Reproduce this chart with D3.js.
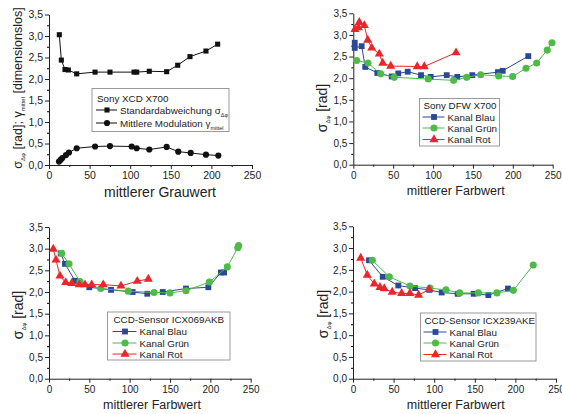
<!DOCTYPE html>
<html>
<head>
<meta charset="utf-8">
<script src="https://d3js.org/d3.v7.min.js"></script>
<style>
  body { margin: 0; background: #fff; }
  svg { font-family: "Liberation Sans", Arial, sans-serif; }
</style>
</head>
<body>
<div id="app"></div>
<script>
'use strict'

// Sony XCD X700 (Grauwert)
const xcdSigmaX = [12.7, 15.2, 19.7, 23.8, 34.1, 56.7, 75.1, 104.7, 108, 123.5, 144.9, 158.5, 173.6, 193.3, 207.7];
const xcdSigma  = [3.03, 2.44, 2.22, 2.21, 2.12, 2.16, 2.16, 2.16, 2.16, 2.18, 2.17, 2.32, 2.52, 2.65, 2.81];
const xcdGammaX = [12.3, 14.4, 16.4, 20.9, 24.6, 34.1, 56.7, 75.1, 101.8, 108, 123.5, 144.9, 159.2, 174.5, 193.3, 208.5];
const xcdGamma  = [0.08, 0.12, 0.16, 0.23, 0.29, 0.39, 0.43, 0.44, 0.43, 0.39, 0.36, 0.42, 0.31, 0.28, 0.24, 0.22];

// Sony DFW X700
const dfwBlueX  = [1.8, 1.8, 10.5, 15.0, 30.1, 48.1, 56.4, 68.2, 84.9, 97.0, 117.1, 130.4, 149.2, 181.4, 187.3, 219.4];
const dfwBlue   = [2.82, 2.70, 2.74, 2.26, 2.12, 2.04, 2.11, 2.15, 2.07, 2.03, 2.07, 2.03, 2.07, 2.14, 2.17, 2.51];
const dfwGreenX = [4.2, 18.4, 34.4, 51.4, 94.0, 125.8, 142.2, 159.7, 182.3, 199.8, 216.5, 229.9, 243.2, 249.1];
const dfwGreen  = [2.41, 2.35, 2.10, 2.02, 1.98, 1.95, 2.02, 2.08, 2.05, 2.04, 2.23, 2.35, 2.65, 2.82];
const dfwRedX   = [2.1, 6.3, 7.5, 13.8, 18.1, 23.1, 32.6, 36.9, 46.9, 80.2, 89.0, 128.8];
const dfwRed    = [3.13, 3.17, 3.29, 3.22, 2.88, 2.70, 2.56, 2.35, 2.28, 2.27, 2.27, 2.59];

// CCD-Sensor ICX069AKB
const akbBlueX  = [14.5, 19.8, 32.2, 50.0, 76.9, 103.7, 121.8, 141, 169.8, 197.5, 213, 217];
const akbBlue   = [2.89, 2.65, 2.26, 2.11, 2.05, 2.00, 1.96, 2.00, 2.08, 2.11, 2.45, 2.45];
const akbGreenX = [15.7, 24.8, 38.4, 64.1, 98.3, 130.2, 150, 169.8, 198.8, 221, 234, 235];
const akbGreen  = [2.89, 2.65, 2.24, 2.08, 2.02, 1.99, 1.98, 2.03, 2.23, 2.58, 3.02, 3.07];
const akbRedX   = [5.3, 8.7, 13.6, 20.7, 28.1, 37.6, 44.6, 52.9, 67.3, 89.2, 109.4, 123.1];
const akbRed    = [2.99, 2.74, 2.37, 2.22, 2.20, 2.17, 2.17, 2.17, 2.17, 2.14, 2.25, 2.30];

// CCD-Sensor ICX239AKE
const akeBlueX  = [19.7, 36.6, 55.8, 76.4, 94.0, 109.2, 128.9, 148.6, 166.7, 190.9];
const akeBlue   = [2.72, 2.34, 2.14, 2.08, 2.04, 1.98, 1.95, 1.95, 1.92, 2.07];
const akeGreenX = [23.8, 44.7, 70.2, 94.8, 114.5, 131.4, 154.4, 177.3, 197.5, 222];
const akeGreen  = [2.72, 2.34, 2.13, 2.08, 2.04, 1.97, 1.97, 1.97, 2.03, 2.61];
const akeRedX   = [9.5, 17.6, 26.2, 33.2, 38.5, 48.3, 59.9, 70.1, 80.8, 93.8];
const akeRed    = [2.77, 2.38, 2.18, 2.10, 2.07, 1.99, 1.96, 1.96, 1.92, 2.05];

const xTicks = [0, 50, 100, 150, 200, 250];
const yTicks = [0, 0.5, 1, 1.5, 2, 2.5, 3, 3.5];
const channelNames = ['Kanal Blau', 'Kanal Grün', 'Kanal Rot'];

const BLUE = '#2b4897';
const GREEN = '#4fba48';
const RED = '#e8262c';
const INK = '#222';

const zip = (xs, ys) => xs.map((x, i) => [x, ys[i]]);

const svg = d3.select('#app').append('svg')
  .attr('width', 562).attr('height', 414);

function drawPanel(p) {
  let x = d3.scaleLinear().domain([0, 250]).range([p.left, p.right]);
  let y = d3.scaleLinear().domain([0, 3.5]).range([p.bottom, p.top]);
  let g = svg.append('g');

  let fmt = (d) => d3.format('.1f')(d).replace('.', ',');

  // minor ticks
  g.append('g').attr('transform', `translate(${p.left},0)`)
    .call(d3.axisLeft(y).tickValues(d3.range(0.25, 3.5, 0.5)).tickSize(2).tickFormat(''))
    .call((a) => a.select('.domain').remove());
  g.append('g').attr('transform', `translate(0,${p.bottom})`)
    .call(d3.axisBottom(x).tickValues(d3.range(25, 250, 50)).tickSize(2).tickFormat(''))
    .call((a) => a.select('.domain').remove());

  // major axes
  let ya = g.append('g').attr('transform', `translate(${p.left},0)`)
    .call(d3.axisLeft(y).tickValues(yTicks).tickSize(4).tickSizeOuter(0).tickPadding(2).tickFormat(fmt));
  let xa = g.append('g').attr('transform', `translate(0,${p.bottom})`)
    .call(d3.axisBottom(x).tickValues(xTicks).tickSize(4).tickSizeOuter(0).tickPadding(3));
  [ya, xa].forEach((a) => {
    a.selectAll('text').attr('font-size', p.tickFont).attr('fill', INK)
      .attr('font-family', '"Liberation Sans", Arial, sans-serif');
    a.selectAll('line, path').attr('stroke', INK);
  });

  // x title
  g.append('text')
    .attr('x', p.xTitleX).attr('y', p.xTitleY)
    .attr('text-anchor', 'middle')
    .attr('font-size', p.titleFont).attr('fill', INK)
    .text(p.xTitle);

  // y title
  let yt = g.append('text')
    .attr('transform', `translate(${p.yTitleX},${p.yTitleY}) rotate(-90)`)
    .attr('text-anchor', 'middle')
    .attr('font-size', p.yFont).attr('fill', INK);
  p.yTitle.forEach((part) => {
    yt.append('tspan')
      .attr('font-size', part.sub ? 6 : p.yFont)
      .attr('dy', part.dy || 0)
      .text(part.t);
  });

  // series
  let line = d3.line().x((d) => x(d[0])).y((d) => y(d[1]));
  p.series.forEach((s) => {
    let pts = zip(s.xs, s.ys);
    g.append('path').datum(pts)
      .attr('fill', 'none').attr('stroke', s.color).attr('stroke-width', 1)
      .attr('d', line);
    g.selectAll(null).data(pts).enter().append('path')
      .attr('transform', (d) => `translate(${x(d[0])},${y(d[1])})`)
      .attr('d', d3.symbol().type(s.shape).size(s.size))
      .attr('fill', s.color);
  });

  // legend
  let L = p.legend;
  let lg = g.append('g');
  lg.append('rect')
    .attr('x', L.x).attr('y', L.y).attr('width', L.w).attr('height', L.h)
    .attr('fill', '#fff').attr('stroke', '#999').attr('stroke-width', 1);
  lg.append('text')
    .attr('x', L.x + L.pad).attr('y', L.titleY)
    .attr('font-size', L.font).attr('fill', INK)
    .text(L.title);
  p.series.forEach((s, i) => {
    let cy = L.rowY[i] - 3.5;
    lg.append('line')
      .attr('x1', L.x + L.pad - 1).attr('x2', L.x + L.pad + L.lineW)
      .attr('y1', cy).attr('y2', cy)
      .attr('stroke', s.color).attr('stroke-width', 1);
    lg.append('path')
      .attr('transform', `translate(${L.x + L.pad + L.lineW / 2},${cy})`)
      .attr('d', d3.symbol().type(s.shape).size(s.size))
      .attr('fill', s.color);
    let t = lg.append('text')
      .attr('x', L.x + L.pad + L.lineW + 3).attr('y', L.rowY[i])
      .attr('font-size', L.font).attr('fill', INK);
    s.label.forEach((part) => {
      t.append('tspan')
        .attr('font-size', part.sub ? 5.5 : L.font)
        .attr('dy', part.dy || 0)
        .text(part.t);
    });
  });
}

const sigmaTitle = [
  {t: 'σ'}, {t: 'Δφ', sub: true, dy: 3}, {t: ' [rad]', dy: -3}
];

const colorSeries = (bx, by, gx, gy, rx, ry) => [
  {xs: bx, ys: by, color: BLUE, shape: d3.symbolSquare, size: 34, label: [{t: channelNames[0]}]},
  {xs: gx, ys: gy, color: GREEN, shape: d3.symbolCircle, size: 40, label: [{t: channelNames[1]}]},
  {xs: rx, ys: ry, color: RED, shape: d3.symbolTriangle, size: 36, label: [{t: channelNames[2]}]},
];

drawPanel({
  left: 49, right: 252, top: 14.5, bottom: 165,
  tickFont: 10.5, titleFont: 14, yFont: 12.5,
  xTitle: 'mittlerer Grauwert', xTitleX: 160, xTitleY: 197,
  yTitle: [
    {t: 'σ'}, {t: 'Δφ', sub: true, dy: 3}, {t: ' [rad]; γ', dy: -3},
    {t: 'mittel', sub: true, dy: 3}, {t: ' [dimensionslos]', dy: -3}
  ],
  yTitleX: 22, yTitleY: 88,
  series: [
    {xs: xcdSigmaX, ys: xcdSigma, color: '#111', shape: d3.symbolSquare, size: 26,
     label: [{t: 'Standardabweichung σ'}, {t: 'Δφ', sub: true, dy: 3}]},
    {xs: xcdGammaX, ys: xcdGamma, color: '#111', shape: d3.symbolCircle, size: 30,
     label: [{t: 'Mittlere Modulation γ'}, {t: 'mittel', sub: true, dy: 3}]},
  ],
  legend: {x: 92, y: 88.5, w: 137, h: 43, pad: 5, lineW: 20, font: 9.8,
           title: 'Sony XCD X700', titleY: 101.5, rowY: [113.5, 126.5]},
});

drawPanel({
  left: 353.3, right: 552.7, top: 13.3, bottom: 164.7,
  tickFont: 10, titleFont: 12.5, yFont: 14,
  xTitle: 'mittlerer Farbwert', xTitleX: 455.7, xTitleY: 195,
  yTitle: sigmaTitle, yTitleX: 327, yTitleY: 108,
  series: colorSeries(dfwBlueX, dfwBlue, dfwGreenX, dfwGreen, dfwRedX, dfwRed),
  legend: {x: 419.5, y: 98.5, w: 80, h: 47.5, pad: 4, lineW: 21, font: 9.8,
           title: 'Sony DFW X700', titleY: 109, rowY: [120.5, 131.5, 143]},
});

drawPanel({
  left: 49, right: 250.7, top: 227, bottom: 378.7,
  tickFont: 10, titleFont: 12.5, yFont: 14,
  xTitle: 'mittlerer Farbwert', xTitleX: 152, xTitleY: 408.5,
  yTitle: sigmaTitle, yTitleX: 23, yTitleY: 315,
  series: colorSeries(akbBlueX, akbBlue, akbGreenX, akbGreen, akbRedX, akbRed),
  legend: {x: 107.5, y: 312, w: 122.5, h: 48, pad: 6, lineW: 23, font: 9.8,
           title: 'CCD-Sensor ICX069AKB', titleY: 322.5, rowY: [335, 346.5, 357.5]},
});

drawPanel({
  left: 353, right: 556, top: 226.3, bottom: 378.7,
  tickFont: 10, titleFont: 12.5, yFont: 14,
  xTitle: 'mittlerer Farbwert', xTitleX: 455.7, xTitleY: 408.5,
  yTitle: sigmaTitle, yTitleX: 328, yTitleY: 314,
  series: colorSeries(akeBlueX, akeBlue, akeGreenX, akeGreen, akeRedX, akeRed),
  legend: {x: 420.5, y: 313, w: 115.5, h: 48, pad: 4, lineW: 22, font: 9.8,
           title: 'CCD-Sensor ICX239AKE', titleY: 323.5, rowY: [335.5, 346.5, 358]},
});
</script>
</body>
</html>
